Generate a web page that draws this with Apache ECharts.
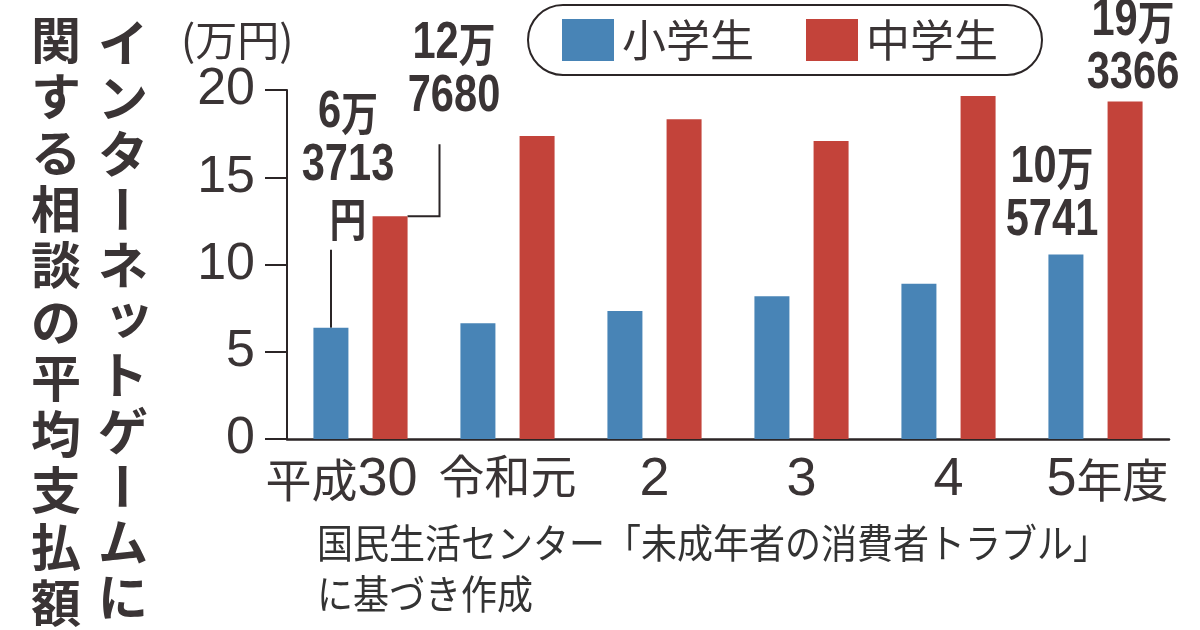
<!DOCTYPE html>
<html>
<head>
<meta charset="utf-8">
<script src="https://cdn.jsdelivr.net/npm/echarts@6/dist/echarts.min.js"></script>
<style>
html, body { margin: 0; padding: 0; background: #fff; }
#chart { width: 1200px; height: 630px; }
</style>
</head>
<body>
<div id="chart"></div>
<script>
// データ（万円）
var categories = ['平成30', '令和元', '2', '3', '4', '5年度'];
var elementary = [6.3713, 6.63, 7.33, 8.18, 8.9, 10.5741];
var juniorHigh = [12.768, 17.36, 18.32, 17.08, 19.66, 19.3366];
var yTicks = [0, 5, 10, 15, 20];
var seriesNames = ['小学生', '中学生'];
var titleRight = 'インターネットゲームに';
var titleLeft = '関する相談の平均支払額';
var unitLabel = '(万円)';
var sourceLines = ['国民生活センター「未成年者の消費者トラブル」', 'に基づき作成'];

var textColor = '#3a3435';
var blue = '#4884b6';
var red = '#c3433a';
var cjk = '"Noto Sans CJK JP"';

function moneyLabel(v, withYen) {
	var man = Math.floor(v);
	var rest = Math.round((v - man) * 10000);
	var s = '{d|' + man + '}{k|万}\n{d|' + rest + '}';
	if (withYen) s += '\n{k|円}';
	return s;
}

var labelRich = {
	d: { fontFamily: '"Liberation Sans"', fontWeight: 'bold', fontSize: 52, lineHeight: 53, fill: textColor },
	k: { fontFamily: cjk, fontWeight: 'bold', fontSize: 46, lineHeight: 53, fill: textColor }
};

var chart = echarts.init(document.getElementById('chart'));

var option = {
	animation: false,
	backgroundColor: '#fff',
	grid: { left: 287, right: 31, top: 90, bottom: 191, containLabel: false },
	legend: {
		data: seriesNames,
		left: 528,
		top: 5,
		icon: 'rect',
		itemWidth: 52,
		itemHeight: 42,
		itemGap: 52,
		padding: [13, 44, 13, 34],
		borderColor: '#2b2526',
		borderWidth: 2,
		borderRadius: 35,
		textStyle: { fontFamily: cjk, fontSize: 44, color: textColor, padding: [0, 0, 0, 3] }
	},
	xAxis: {
		type: 'category',
		data: categories.map(function (c, i) {
			if (i === 0) return { value: c, textStyle: { padding: [0, 38, 0, 0] } };
			if (i === categories.length - 1) return { value: c, textStyle: { padding: [0, 0, 0, 24] } };
			return c;
		}),
		axisLine: { show: true, lineStyle: { color: '#2b2526', width: 2.5 } },
		axisTick: { show: false },
		axisLabel: {
			interval: 0,
			margin: 14,
			color: textColor,
			fontFamily: '"Liberation Sans"',
			fontSize: 54,
			formatter: function (v) {
				return v.replace(/([^0-9]+)/g, '{c|$1}');
			},
			rich: { c: { fontFamily: cjk, fontSize: 46, color: textColor } }
		}
	},
	yAxis: {
		type: 'value',
		min: yTicks[0],
		max: yTicks[yTicks.length - 1],
		interval: yTicks[1] - yTicks[0],
		splitLine: { show: false },
		axisLine: { show: true, lineStyle: { color: '#2b2526', width: 2 } },
		axisTick: { show: true, length: 22, lineStyle: { color: '#2b2526', width: 2 } },
		axisLabel: { margin: 32, color: textColor, fontFamily: '"Liberation Sans"', fontSize: 52 }
	},
	series: [{
		name: seriesNames[0],
		type: 'bar',
		barWidth: 35,
		barGap: '69%',
		itemStyle: { color: blue },
		data: elementary
	}, {
		name: seriesNames[1],
		type: 'bar',
		barWidth: 35,
		itemStyle: { color: red },
		data: juniorHigh
	}]
};
chart.setOption(option);

/******見出し・注記・数値ラベル・引き出し線*********/
var g = [];
function vColumn(str, cx, y0, pitch) {
	str.split('').forEach(function (ch, i) {
		var el = {
			type: 'text',
			x: cx, y: y0 + i * pitch,
			style: {
				text: ch, fill: textColor,
				font: 'bold 50px ' + cjk,
				align: 'center', verticalAlign: 'middle',
				textAlign: 'center', textVerticalAlign: 'middle'
			}
		};
		if (ch === 'ー') el.rotation = Math.PI / 2;
		if (ch === 'ッ') { el.x += 6; el.y -= 6; }
		g.push(el);
	});
}
vColumn(titleRight, 123, 43, 55.4);
vColumn(titleLeft, 56, 40, 56.3);

g.push({
	type: 'text', x: 181, y: 40,
	style: { text: unitLabel, fill: textColor, font: '42px ' + cjk, align: 'left', verticalAlign: 'middle', textAlign: 'left', textVerticalAlign: 'middle' }
});
sourceLines.forEach(function (line, i) {
	g.push({
		type: 'text', x: 317, y: 543 + i * 51, scaleX: 0.9,
		style: { text: line, fill: '#333', font: '40px ' + cjk, align: 'left', verticalAlign: 'middle', textAlign: 'left', textVerticalAlign: 'middle' }
	});
});

// 棒の中心 = カテゴリ中心 ± (棒幅+間隔)/2
var halfPair = 29.5;
function barTop(seriesIndex, catIndex, value) {
	var p = chart.convertToPixel({ seriesIndex: seriesIndex }, [catIndex, value]);
	return [p[0] + (seriesIndex === 0 ? -halfPair : halfPair), p[1]];
}
function valueLabel(seriesIndex, catIndex, value, dx, dy, withYen) {
	var t = barTop(seriesIndex, catIndex, value);
	g.push({
		type: 'text', x: t[0] + dx, y: t[1] + dy, scaleX: 0.8,
		style: {
			text: moneyLabel(value, withYen), rich: labelRich,
			align: 'center', verticalAlign: 'bottom',
			textAlign: 'center', textVerticalAlign: 'bottom'
		}
	});
}
var last = categories.length - 1;
valueLabel(0, 0, elementary[0], 17, -83, true);
valueLabel(1, 0, juniorHigh[0], 64, -93, false);
valueLabel(0, last, elementary[last], -14, -7, false);
valueLabel(1, last, juniorHigh[last], 8, -1, false);

var pb = barTop(0, 0, elementary[0]);
g.push({
	type: 'line',
	shape: { x1: pb[0], y1: pb[1], x2: pb[0], y2: pb[1] - 78 },
	style: { stroke: '#2b2526', lineWidth: 2 }
});
var pr = barTop(1, 0, juniorHigh[0]);
var rx = pr[0] + 17.5;
g.push({
	type: 'polyline',
	shape: { points: [[rx, pr[1]], [rx + 32, pr[1]], [rx + 32, pr[1] - 72]] },
	style: { stroke: '#2b2526', lineWidth: 2, fill: null }
});

chart.setOption({ graphic: g });
</script>
</body>
</html>
